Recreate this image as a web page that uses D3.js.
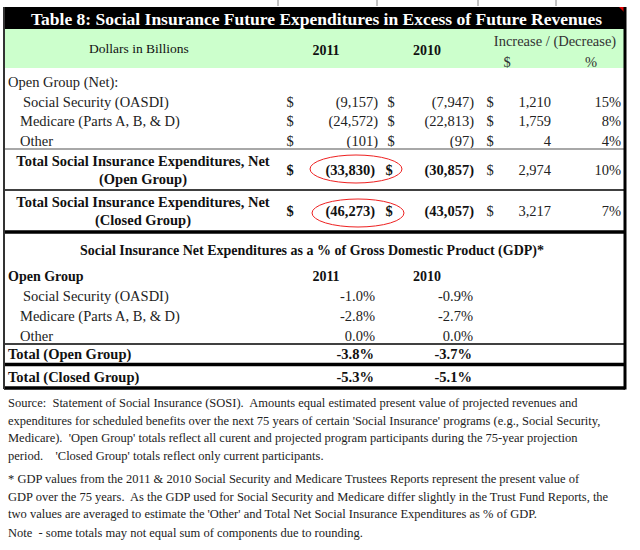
<!DOCTYPE html>
<html>
<head>
<meta charset="utf-8">
<script src="https://cdn.jsdelivr.net/npm/d3@7"></script>
<style>
  html, body { margin: 0; padding: 0; background: #fff; }
  svg text { font-family: "Liberation Serif", Tinos, "Times New Roman", serif; white-space: pre; }
</style>
</head>
<body>
<svg id="chart" width="640" height="550"></svg>
<script>
// ---------------- DATA ----------------
const title = "Table 8: Social Insurance Future Expenditures in Excess of Future Revenues";
const headerLabels = ["Dollars in Billions", "2011", "2010", "Increase / (Decrease)", "$", "%"];
const sectionLabel = "Open Group (Net):";
const categories = ["Social Security (OASDI)", "Medicare (Parts A, B, & D)", "Other"];
const values2011 = [-9157, -24572, -101];
const values2010 = [-7947, -22813, -97];
const changeDollars = [1210, 1759, 4];
const changePercent = [15, 8, 4];

const totalLabels = [["Total Social Insurance Expenditures, Net", "(Open Group)"],
                     ["Total Social Insurance Expenditures, Net", "(Closed Group)"]];
const totals2011 = [-33830, -46273];
const totals2010 = [-30857, -43057];
const totalChangeDollars = [2974, 3217];
const totalChangePercent = [10, 7];

const gdpTitle = "Social Insurance Net Expenditures as a % of Gross Domestic Product (GDP)*";
const gdpHeader = ["Open Group", "2011", "2010"];
const gdp2011 = [-1.0, -2.8, 0.0];
const gdp2010 = [-0.9, -2.7, 0.0];
const gdpTotalLabels = ["Total (Open Group)", "Total (Closed Group)"];
const gdpTotals2011 = [-3.8, -5.3];
const gdpTotals2010 = [-3.7, -5.1];

const footnotes = [
  ["Source:  Statement of Social Insurance (SOSI).  Amounts equal estimated present value of projected revenues and",
   "expenditures for scheduled benefits over the next 75 years of certain 'Social Insurance' programs (e.g., Social Security,",
   "Medicare).  'Open Group' totals reflect all curent and projected program participants during the 75-year projection",
   "period.    'Closed Group' totals reflect only current participants."],
  ["* GDP values from the 2011 & 2010 Social Security and Medicare Trustees Reports represent the present value of",
   "GDP over the 75 years.  As the GDP used for Social Security and Medicare differ slightly in the Trust Fund Reports, the",
   "two values are averaged to estimate the 'Other' and Total Net Social Insurance Expenditures as % of GDP."],
  ["Note  - some totals may not equal sum of components due to rounding."]
];

// ---------------- LAYOUT ----------------
const svg = d3.select("#chart");
const L = 4, R = 625, T = 7;
const FONT = "'Liberation Serif', Tinos, 'Times New Roman', serif";

const loc = d3.formatLocale({ decimal: ".", thousands: ",", grouping: [3], currency: ["$", ""], minus: "-" });
const fmtNum = loc.format(",");
const acct = v => v < 0 ? "(" + fmtNum(-v) + ")" : fmtNum(v);
const pct = v => loc.format(".0f")(v) + "%";
const pct1 = v => loc.format(".1f")(v) + "%";

const colKeys = ["label", "cur1", "v2011", "cur2", "v2010", "cur3", "chg", "pct", "h2011", "h2010", "g2011", "g2010"];
const colX = d3.scaleOrdinal().domain(colKeys)
  .range([20, 290, 378, 391, 474, 490, 551, 621, 326, 427, 375, 473]);

const rowY = d3.scalePoint().domain(["section", ...categories]).range([82, 141]);
const totalY = d3.scalePoint().domain([0, 1]).range([170, 211]);
const gdpRowY = d3.scalePoint().domain(["hdr", ...categories]).range([276, 336]);
const gdpTotY = d3.scalePoint().domain([0, 1]).range([354, 377]);

function txt(x, y, s, opts = {}) {
  return svg.append("text")
    .attr("x", x).attr("y", y)
    .attr("font-family", FONT)
    .attr("dominant-baseline", "central")
    .attr("text-anchor", opts.anchor || "start")
    .attr("font-size", opts.size || 14)
    .attr("font-weight", opts.bold ? "bold" : "normal")
    .attr("fill", opts.fill || "#111")
    .text(s);
}
function hline(y, w, color) {
  svg.append("line").attr("x1", L).attr("x2", R).attr("y1", y).attr("y2", y)
    .attr("stroke", color || "#000").attr("stroke-width", w);
}

svg.append("rect").attr("width", 640).attr("height", 550).attr("fill", "#fff");

// faint gridline stubs above the table
[278, 377, 478, 556].forEach(x => {
  svg.append("line").attr("x1", x).attr("x2", x).attr("y1", 0).attr("y2", 6)
    .attr("stroke", "#888").attr("stroke-width", 1);
});

// title bar
svg.append("rect").attr("x", L).attr("y", T).attr("width", R - L).attr("height", 22).attr("fill", "#000");
txt((L + R) / 2 + 2, 18.5, title, { anchor: "middle", size: 17.5, bold: true, fill: "#fff" });
svg.append("path").attr("d", `M${R - 6},${T} L${R},${T} L${R},${T + 6} Z`).attr("fill", "#e00000");

// green header band
svg.append("rect").attr("x", L).attr("y", 29).attr("width", R - L).attr("height", 39).attr("fill", "#ccffcc");
txt(139, 48, headerLabels[0], { anchor: "middle", size: 13.5 });
txt(colX("h2011"), 50, headerLabels[1], { anchor: "middle", size: 14, bold: true });
txt(colX("h2010"), 50, headerLabels[2], { anchor: "middle", size: 14, bold: true });
txt(555, 41, headerLabels[3], { anchor: "middle", size: 14.5, fill: "#333" });
txt(507, 62, headerLabels[4], { anchor: "middle", size: 14.5, fill: "#333" });
txt(591, 62, headerLabels[5], { anchor: "middle", size: 14.5, fill: "#333" });

txt(8, rowY("section"), sectionLabel, { size: 14.5, fill: "#222" });

categories.forEach((c, i) => {
  const y = rowY(c);
  txt(i === 0 ? 23 : 20, y, c, { size: 14.5, fill: "#222" });
  txt(colX("cur1"), y, "$", { anchor: "middle", size: 14.5, fill: "#222" });
  txt(colX("v2011"), y, acct(values2011[i]), { anchor: "end", size: 14.5, fill: "#222" });
  txt(colX("cur2"), y, "$", { anchor: "middle", size: 14.5, fill: "#222" });
  txt(colX("v2010"), y, acct(values2010[i]), { anchor: "end", size: 14.5, fill: "#222" });
  txt(colX("cur3"), y, "$", { anchor: "middle", size: 14.5, fill: "#222" });
  txt(colX("chg"), y, acct(changeDollars[i]), { anchor: "end", size: 14.5, fill: "#222" });
  txt(colX("pct"), y, pct(changePercent[i]), { anchor: "end", size: 14.5, fill: "#222" });
});

hline(149, 2, "#a8a8a8");

totalLabels.forEach((lab, i) => {
  const y = totalY(i);
  txt(143, y - 9, lab[0], { anchor: "middle", size: 14.5, bold: true });
  txt(143, y + 9, lab[1], { anchor: "middle", size: 14.5, bold: true });
  txt(colX("cur1"), y, "$", { anchor: "middle", size: 14.5, bold: true });
  txt(colX("v2011") - 3, y, acct(totals2011[i]), { anchor: "end", size: 14.5, bold: true });
  txt(colX("cur2") - 2, y, "$", { anchor: "middle", size: 14.5, bold: true });
  txt(colX("v2010"), y, acct(totals2010[i]), { anchor: "end", size: 14.5, bold: true });
  txt(colX("cur3"), y, "$", { anchor: "middle", size: 14.5, fill: "#222" });
  txt(colX("chg"), y, acct(totalChangeDollars[i]), { anchor: "end", size: 14.5, fill: "#222" });
  txt(colX("pct"), y, pct(totalChangePercent[i]), { anchor: "end", size: 14.5, fill: "#222" });
  svg.append("ellipse").attr("cx", 356 + i * 2).attr("cy", y - 1 + i * 3).attr("rx", 46).attr("ry", 14)
    .attr("fill", "none").attr("stroke", "#ee2020").attr("stroke-width", 1);
});
hline(190, 1.5, "#000");
hline(232, 3.5, "#000");

txt(312, 250, gdpTitle, { anchor: "middle", size: 14, bold: true });
txt(8, gdpRowY("hdr"), gdpHeader[0], { size: 14, bold: true });
txt(colX("h2011"), gdpRowY("hdr"), gdpHeader[1], { anchor: "middle", size: 14, bold: true });
txt(colX("h2010"), gdpRowY("hdr"), gdpHeader[2], { anchor: "middle", size: 14, bold: true });
categories.forEach((c, i) => {
  const y = gdpRowY(c);
  txt(i === 0 ? 23 : 20, y, c, { size: 14.5, fill: "#222" });
  txt(colX("g2011"), y, pct1(gdp2011[i]), { anchor: "end", size: 14.5, fill: "#222" });
  txt(colX("g2010"), y, pct1(gdp2010[i]), { anchor: "end", size: 14.5, fill: "#222" });
});
hline(344, 1.5, "#000");
gdpTotalLabels.forEach((lab, i) => {
  const y = gdpTotY(i);
  txt(8, y, lab, { size: 14.5, bold: true });
  txt(colX("g2011") - 1, y, pct1(gdpTotals2011[i]), { anchor: "end", size: 14.5, bold: true });
  txt(colX("g2010") - 1, y, pct1(gdpTotals2010[i]), { anchor: "end", size: 14.5, bold: true });
});
hline(364.5, 3.5, "#000");
hline(388, 3.5, "#000");

svg.append("line").attr("x1", L).attr("x2", L).attr("y1", T).attr("y2", 389).attr("stroke", "#333").attr("stroke-width", 2);
svg.append("line").attr("x1", R).attr("x2", R).attr("y1", T).attr("y2", 389.5).attr("stroke", "#000").attr("stroke-width", 3);

const footY = [[403, 421, 438, 456], [479, 497, 514], [533]];
footnotes.forEach((block, b) => {
  block.forEach((line, j) => {
    txt(8, footY[b][j], line, { size: 12.5, fill: "#222" });
  });
});
</script>
</body>
</html>
